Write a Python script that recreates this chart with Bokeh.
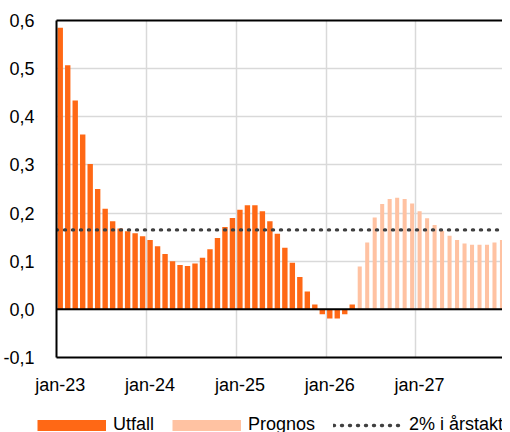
from bokeh.plotting import figure
from bokeh.models import (FixedTicker, Range1d, LinearAxis, Span, Legend, LegendItem,
                          CustomJSTickFormatter)
from bokeh.embed import file_html
from bokeh.resources import INLINE

# Monthly change (%), Jan 2023 - Apr 2026 (outcome)
utfall = [0.585, 0.507, 0.434, 0.363, 0.302, 0.250, 0.209, 0.183, 0.168, 0.162, 0.158, 0.152,
          0.144, 0.131, 0.115, 0.100, 0.092, 0.090, 0.095, 0.107, 0.125, 0.148, 0.171, 0.190,
          0.207, 0.216, 0.216, 0.204, 0.183, 0.157, 0.128, 0.097, 0.067, 0.037, 0.010, -0.010,
          -0.019, -0.019, -0.010, 0.010]
# Forecast, May 2026 - Dec 2027
prognos = [0.089, 0.139, 0.191, 0.219, 0.229, 0.232, 0.229, 0.220, 0.204, 0.189, 0.175, 0.163,
           0.153, 0.144, 0.137, 0.134, 0.134, 0.134, 0.139, 0.144]
# 2 % per year expressed as monthly rate
target = 0.165
year_labels = ["jan-23", "jan-24", "jan-25", "jan-26", "jan-27"]
y_ticks = [-0.1, 0.0, 0.1, 0.2, 0.3, 0.4, 0.5, 0.6]
legend_labels = ["Utfall", "Prognos", "2% i årstakt"]

ORANGE = "#FF6815"
LIGHT = "#FFC2A2"
DOTS = "#404040"
FONT = "Liberation Sans"
NAN = float("nan")

n_u = len(utfall)
n_total = n_u + len(prognos)
x_u = [i + 0.5 for i in range(n_u)]
x_p = [n_u + i + 0.5 for i in range(len(prognos))]
year_starts = [12 * k for k in range(len(year_labels))]
label_pos = [12 * k + 0.5 for k in range(len(year_labels))]

p = figure(width=502, height=400, output_backend="svg", toolbar_location=None,
           x_range=Range1d(0, 59.57), y_range=Range1d(-0.1, 0.6),
           min_border_left=49, min_border_right=0, min_border_top=20, min_border_bottom=43)
p.outline_line_color = None
p.background_fill_color = "white"

# grids
p.xgrid.ticker = FixedTicker(ticks=year_starts)
p.xgrid.grid_line_color = "#D9D9D9"
p.xgrid.grid_line_width = 1.5
p.ygrid.ticker = FixedTicker(ticks=y_ticks)
p.ygrid.grid_line_color = "#D9D9D9"
p.ygrid.grid_line_width = 1.5

# axes
xa = p.xaxis[0]
xa.ticker = FixedTicker(ticks=label_pos)
xa.formatter = CustomJSTickFormatter(args=dict(labels=year_labels),
                                     code="return labels[Math.round((tick - 0.5) / 12)];")
xa.major_tick_line_color = None
xa.minor_tick_line_color = None
xa.axis_line_color = "black"
xa.axis_line_width = 2
xa.major_label_standoff = 11
xa.major_label_text_font = FONT
xa.major_label_text_font_size = "18px"
xa.major_label_text_color = "black"

ya = p.yaxis[0]
ya.ticker = FixedTicker(ticks=y_ticks)
ya.formatter = CustomJSTickFormatter(code="return tick.toFixed(1).replace('.', ',');")
ya.major_tick_line_color = None
ya.minor_tick_line_color = None
ya.axis_line_color = "black"
ya.axis_line_width = 2
ya.major_label_standoff = 16
ya.major_label_text_font = FONT
ya.major_label_text_font_size = "18px"
ya.major_label_text_color = "black"

top = LinearAxis(ticker=FixedTicker(ticks=[]), axis_line_color="black", axis_line_width=2,
                 major_tick_line_color=None, minor_tick_line_color=None,
                 major_label_text_font_size="0px")
p.add_layout(top, "above")

# bars
p.vbar(x=x_u, top=utfall, bottom=0, width=0.72, fill_color=ORANGE, line_color=None)
p.vbar(x=x_p, top=prognos, bottom=0, width=0.54, fill_color=LIGHT, line_color=None)

p.add_layout(Span(location=0, dimension="width", line_color="black", line_width=2))

p.line(x=[0, n_total], y=[target, target], line_color=DOTS, line_width=3.4,
       line_dash="1 7", line_cap="round")

# legend strip below the chart (separate root)
lg = figure(width=502, height=32, output_backend="svg", toolbar_location=None,
            x_axis_type=None, y_axis_type=None,
            x_range=Range1d(0, 1), y_range=Range1d(0, 1),
            min_border_left=0, min_border_right=0, min_border_top=0, min_border_bottom=0)
lg.outline_line_color = None
lg.grid.grid_line_color = None
sw_u = lg.line(x=[NAN], y=[NAN], line_color=ORANGE, line_width=11)
sw_p = lg.line(x=[NAN], y=[NAN], line_color=LIGHT, line_width=11)
sw_d = lg.line(x=[NAN], y=[NAN], line_color=DOTS, line_width=3.4, line_dash="1 7",
               line_cap="round")

legend = Legend(items=[LegendItem(label=legend_labels[0], renderers=[sw_u]),
                       LegendItem(label=legend_labels[1], renderers=[sw_p]),
                       LegendItem(label=legend_labels[2], renderers=[sw_d])],
                orientation="horizontal", location=(37, -3),
                glyph_width=69, glyph_height=20, label_standoff=7, spacing=18,
                padding=0, margin=0, border_line_color=None, background_fill_alpha=0,
                label_text_font=FONT, label_text_font_size="18px", label_text_color="black")
lg.add_layout(legend, "center")

open("out.html", "w").write(file_html([p, lg], INLINE))
